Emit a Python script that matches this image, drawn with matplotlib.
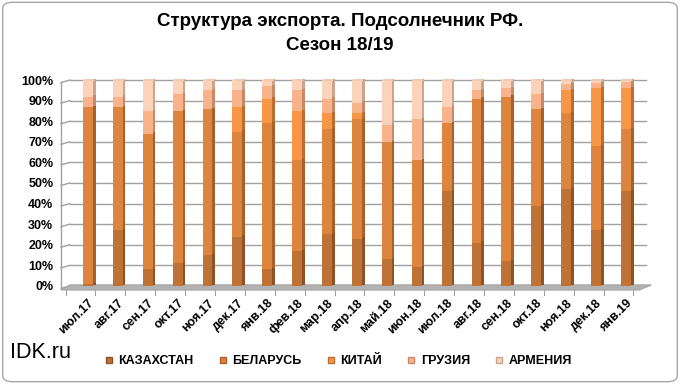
import matplotlib.pyplot as plt
from matplotlib.patches import FancyBboxPatch, Polygon
from matplotlib.lines import Line2D
import numpy as np

plt.rcParams['font.family'] = ['Liberation Sans', 'DejaVu Sans']

months = ['июл.17', 'авг.17', 'сен.17', 'окт.17', 'ноя.17', 'дек.17', 'янв.18',
          'фев.18', 'мар.18', 'апр.18', 'май.18', 'июн.18', 'июл.18', 'авг.18',
          'сен.18', 'окт.18', 'ноя.18', 'дек.18', 'янв.19']
kaz = [1, 27, 8, 11, 15, 24, 8, 17, 25, 23, 13, 9, 46, 21, 12, 39, 47, 27, 46]
bel = [86, 60, 66, 74, 71, 51, 71, 44, 51, 58, 57, 52, 33, 70, 80, 47, 37, 41, 30]
china = [0, 0, 0, 0, 0, 12, 12, 24, 8, 3, 0, 0, 0, 0, 0, 0, 11, 28, 20]
georgia = [5, 5, 11, 8, 9, 8, 6, 10, 7, 5, 8, 20, 8, 4, 4, 7, 3, 2.5, 3]
armenia = [8, 8, 15, 7, 5, 5, 3, 5, 9, 11, 22, 19, 13, 5, 4, 7, 2, 1.5, 1]
names = ['КАЗАХСТАН', 'БЕЛАРУСЬ', 'КИТАЙ', 'ГРУЗИЯ', 'АРМЕНИЯ']

front = ['#BF7236', '#DD853F', '#F79646', '#F9B38A', '#FBD2BA']
side = ['#8E5226', '#A8612C', '#BC6E30', '#C58A68', '#CBA48E']

fig = plt.figure(figsize=(6.8, 3.84), dpi=100)
fig.patches.append(FancyBboxPatch((0.004, 0.006), 0.992, 0.988, transform=fig.transFigure,
                                  boxstyle='round,pad=0,rounding_size=0.015',
                                  fc='none', ec='#A6A6A6', lw=1.0, zorder=-1))

ax = fig.add_axes([70 / 680, (384 - 289) / 384, 576 / 680, 210 / 384])
ax.set_xlim(-0.6, 18.67)
ax.set_ylim(-1.5, 100.5)
ax.patch.set_alpha(0)
for s in ax.spines.values():
    s.set_visible(False)

# back grid
for v in range(0, 101, 10):
    ax.plot([-0.6, 18.67], [v, v], color='#A0A0A0', lw=1.0, zorder=0, clip_on=False)
    ax.plot([-0.9, -0.6], [v - 1.2, v], color='#A0A0A0', lw=1.0, zorder=0, clip_on=False)
ax.plot([-0.9, -0.9], [-1.2, 98.8], color='#A0A0A0', lw=1.0, clip_on=False)

# floor
ax.add_patch(Polygon([[-0.9, -2.0], [18.45, -2.0], [18.85, 0.5], [-0.6, 0.5]],
                     closed=True, fc='#B2B2B2', ec='#A6A6A6', lw=0.8, zorder=1, clip_on=False))

x = np.arange(len(months))
w = 0.33
sw = 0.09
series = [kaz, bel, china, georgia, armenia]
bottom = np.zeros(len(months))
for i, vals in enumerate(series):
    vals = np.array(vals, dtype=float)
    ax.bar(x, vals, w, bottom=bottom, color=front[i], lw=0, zorder=3)
    ax.bar(x + w / 2 + sw / 2, vals, sw, bottom=bottom + 0.6, color=side[i], lw=0, zorder=3)
    bottom += vals
# caps
ax.bar(x + sw / 2, 1.2, w, bottom=bottom - 0.6, color='#F6C8AE', lw=0, zorder=4)

ax.set_yticks(range(0, 101, 10))
ax.set_yticklabels([f'{v}%' for v in range(0, 101, 10)], fontsize=9, fontweight='bold')
ax.tick_params(axis='y', length=0, pad=12)
ax.set_xticks(x)
ax.set_xticklabels(months, rotation=45, ha='right', rotation_mode='anchor',
                   fontsize=9, fontweight='bold')
ax.tick_params(axis='x', length=0, pad=6)
for b in np.arange(-0.5, 19, 1):
    ax.plot([b - 0.25, b - 0.25], [-2.0, -4.5], color='#A0A0A0', lw=0.8, clip_on=False)

fig.text(0.5, 1 - 22 / 384, 'Структура экспорта. Подсолнечник РФ.', ha='center', va='center',
         fontsize=13.5, fontweight='bold')
fig.text(0.5, 1 - 45 / 384, 'Сезон 18/19', ha='center', va='center', fontsize=13.5,
         fontweight='bold')
fig.text(10 / 680, 1 - 353 / 384, 'IDK.ru', ha='left', va='center', fontsize=15.5)

handles = [Line2D([], [], marker='s', ls='', markersize=5, markerfacecolor=front[i],
                  markeredgecolor=side[i]) for i in range(5)]
fig.legend(handles, names, loc='center', bbox_to_anchor=(338 / 680, 1 - 361 / 384),
           ncol=5, frameon=False, handletextpad=0.4, columnspacing=1.9, handlelength=0.8,
           prop={'size': 9, 'weight': 'bold'})

fig.savefig('out.png', dpi=100)
